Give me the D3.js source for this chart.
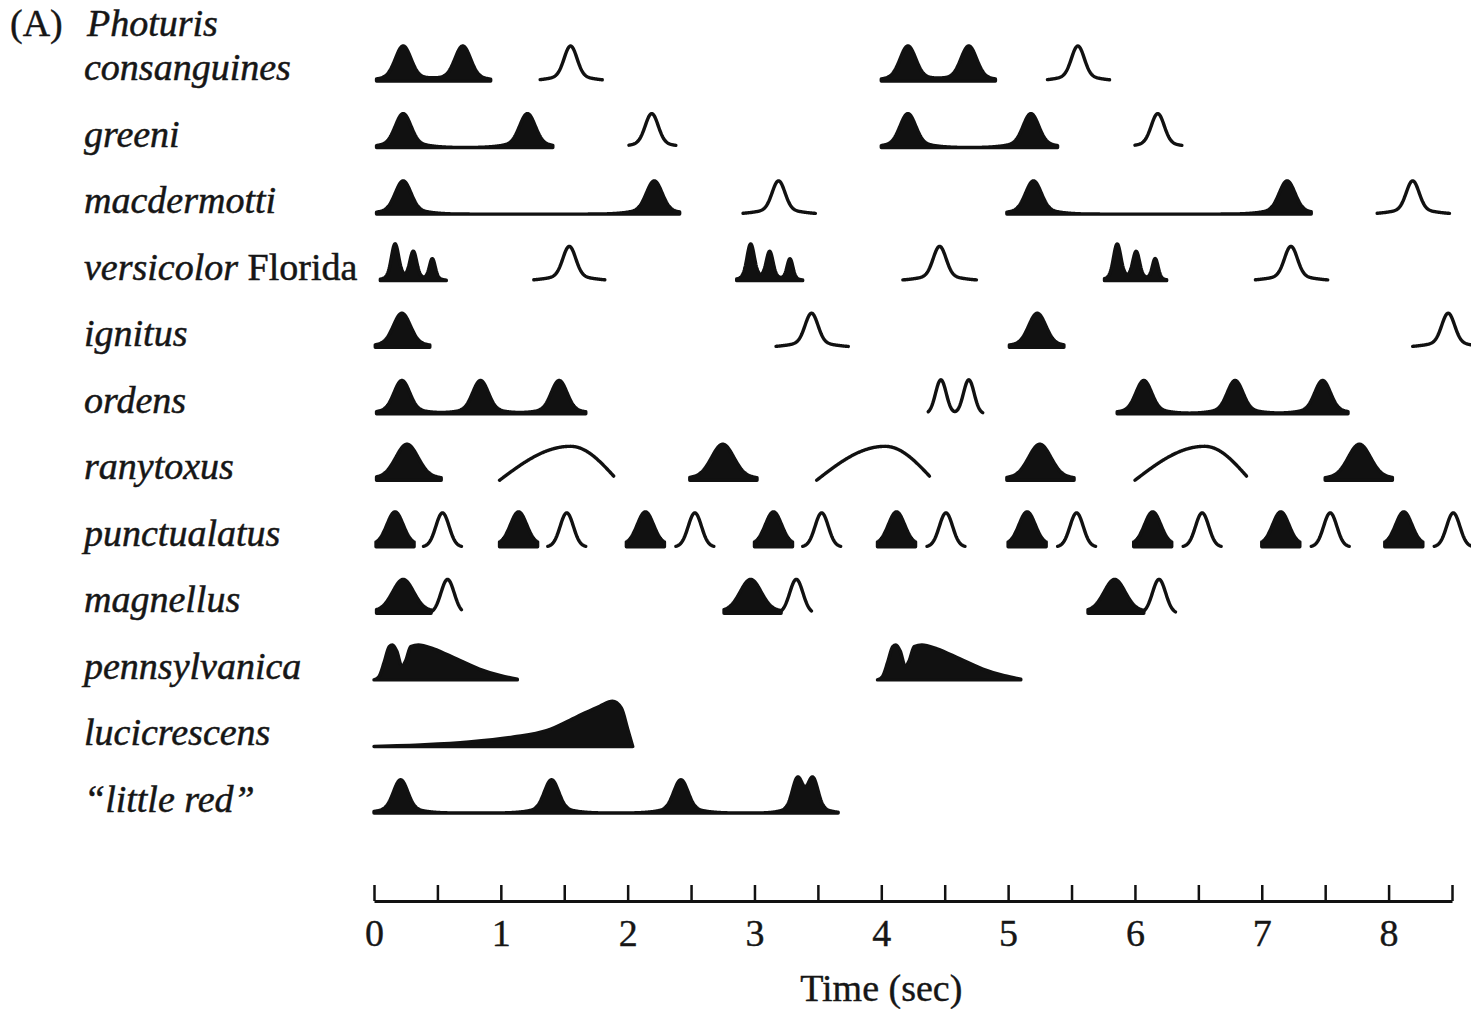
<!DOCTYPE html>
<html lang="en">
<head>
<meta charset="UTF-8">
<title>Photuris flash patterns</title>
<script src="https://d3js.org/d3.v7.min.js"></script>
<style>
  body { margin: 0; background: #fff; }
  svg text { font-family: "Liberation Serif", "Times New Roman", serif; fill: #161616; }
  .species { font-family: "Liberation Serif", serif; font-style: italic; font-size: 38px; stroke: #161616; stroke-width: 0.5; }
  .plain { font-size: 38px; stroke: #161616; stroke-width: 0.4; }
  .tick text { font-size: 38px; stroke: #161616; stroke-width: 0.4; }
  .flash { fill: #111; stroke: #111; stroke-width: 3.4; stroke-linejoin: round; }
  .reply { fill: none; stroke: #111; stroke-width: 3.4; stroke-linecap: round; stroke-linejoin: round; }
</style>
</head>
<body>
<svg id="chart" width="1471" height="1009"></svg>
<script>
// rows, top to bottom
const species = ["consanguines", "greeni", "macdermotti", "versicolor", "ignitus", "ordens",
  "ranytoxus", "punctualatus", "magnellus", "pennsylvanica", "lucicrescens", "little red"];
const labels = ["consanguines", "greeni", "macdermotti", "versicolor", "ignitus", "ordens",
  "ranytoxus", "punctualatus", "magnellus", "pennsylvanica", "lucicrescens", "\u201clittle red\u201d"];
const labelSuffix = { versicolor: "Florida" };

// male flashes (filled): start, end (sec) and peaks [time, height, width]
const flashes = [
  { sp: "consanguines", start: 0.02, end: 0.92, peaks: [[0.23, 1, 0.06], [0.70, 1, 0.06]] },
  { sp: "consanguines", start: 4.00, end: 4.90, peaks: [[4.21, 1, 0.06], [4.69, 1, 0.06]] },
  { sp: "greeni", start: 0.02, end: 1.41, peaks: [[0.23, 0.97, 0.06], [1.21, 0.97, 0.06]] },
  { sp: "greeni", start: 4.00, end: 5.39, peaks: [[4.21, 0.97, 0.06], [5.18, 0.97, 0.06]] },
  { sp: "macdermotti", start: 0.02, end: 2.41, peaks: [[0.23, 0.95, 0.06], [2.21, 0.95, 0.06]] },
  { sp: "macdermotti", start: 4.99, end: 7.39, peaks: [[5.20, 0.95, 0.06], [7.20, 0.95, 0.06]] },
  { sp: "versicolor", start: 0.05, end: 0.57, peaks: [[0.166, 1.04, 0.028], [0.31, 0.82, 0.026], [0.46, 0.62, 0.022]] },
  { sp: "versicolor", start: 2.86, end: 3.38, peaks: [[2.97, 1.04, 0.028], [3.12, 0.82, 0.026], [3.28, 0.62, 0.022]] },
  { sp: "versicolor", start: 5.76, end: 6.25, peaks: [[5.86, 1.04, 0.028], [6.01, 0.82, 0.026], [6.16, 0.62, 0.022]] },
  { sp: "ignitus", start: 0.01, end: 0.44, peaks: [[0.22, 0.97, 0.065]] },
  { sp: "ignitus", start: 5.01, end: 5.44, peaks: [[5.23, 0.97, 0.065]] },
  { sp: "ordens", start: 0.02, end: 1.67, peaks: [[0.22, 0.95, 0.06], [0.84, 0.95, 0.06], [1.46, 0.95, 0.06]] },
  { sp: "ordens", start: 5.86, end: 7.68, peaks: [[6.07, 0.95, 0.06], [6.79, 0.95, 0.06], [7.48, 0.95, 0.06]] },
  { sp: "ranytoxus", start: 0.02, end: 0.53, peaks: [[0.26, 1.03, 0.085]] },
  { sp: "ranytoxus", start: 2.49, end: 3.02, peaks: [[2.75, 1.03, 0.085]] },
  { sp: "ranytoxus", start: 4.99, end: 5.52, peaks: [[5.25, 1.03, 0.085]] },
  { sp: "ranytoxus", start: 7.50, end: 8.03, peaks: [[7.77, 1.03, 0.085]] },
  { sp: "magnellus", start: 0.02, end: 0.45, peaks: [[0.23, 0.97, 0.08]] },
  { sp: "magnellus", start: 2.76, end: 3.21, peaks: [[2.97, 0.97, 0.08]] },
  { sp: "magnellus", start: 5.63, end: 6.07, peaks: [[5.84, 0.97, 0.08]] },
  { sp: "little red", start: 0.0, end: 3.66, peaks: [[0.21, 0.95, 0.055], [1.40, 0.95, 0.055], [2.42, 0.95, 0.055], [3.34, 0.95, 0.04], [3.46, 0.95, 0.04]] }
];

// punctualatus: flash and reply times (sec)
const punctFlashes = [0.166, 1.14, 2.14, 3.15, 4.12, 5.15, 6.14, 7.15, 8.12];
const punctReplies = [0.54, 1.52, 2.53, 3.53, 4.51, 5.54, 6.53, 7.54, 8.51];

// female replies (open): kind, peaks, start, end, height
const replies = [
  { sp: "consanguines", kind: "bell", peaks: [1.55], start: 1.31, end: 1.80, h: 1 },
  { sp: "consanguines", kind: "bell", peaks: [5.55], start: 5.31, end: 5.80, h: 1 },
  { sp: "greeni", kind: "bell", peaks: [2.19], start: 2.01, end: 2.38, h: 0.97 },
  { sp: "greeni", kind: "bell", peaks: [6.18], start: 6.00, end: 6.37, h: 0.97 },
  { sp: "macdermotti", kind: "bell", peaks: [3.19], start: 2.91, end: 3.48, h: 0.95 },
  { sp: "macdermotti", kind: "bell", peaks: [8.19], start: 7.91, end: 8.48, h: 0.95 },
  { sp: "versicolor", kind: "bell", peaks: [1.54], start: 1.26, end: 1.82, h: 0.98 },
  { sp: "versicolor", kind: "bell", peaks: [4.46], start: 4.17, end: 4.75, h: 0.98 },
  { sp: "versicolor", kind: "bell", peaks: [7.23], start: 6.95, end: 7.52, h: 0.98 },
  { sp: "ignitus", kind: "bell", peaks: [3.45], start: 3.17, end: 3.74, h: 0.97 },
  { sp: "ignitus", kind: "bell", peaks: [8.47], start: 8.19, end: 8.76, h: 0.97 },
  { sp: "ordens", kind: "lambda", peaks: [4.47, 4.69], start: 4.37, end: 4.80, h: 0.97 },
  { sp: "magnellus", kind: "lambda", peaks: [0.58], start: 0.45, end: 0.69, h: 0.97 },
  { sp: "magnellus", kind: "lambda", peaks: [3.33], start: 3.21, end: 3.45, h: 0.97 },
  { sp: "magnellus", kind: "lambda", peaks: [6.19], start: 6.07, end: 6.32, h: 0.97 }
];

// ranytoxus replies: start, apex, end (sec)
const arcs = [[0.99, 1.55, 1.89], [3.49, 4.03, 4.38], [6.00, 6.55, 6.88]];

// traced flash profiles [time offset, intensity]
const pennProfile = [[0, 0], [0.04, 0.1], [0.08, 0.5], [0.12, 0.95], [0.145, 1.0], [0.18, 0.82], [0.22, 0.38],
  [0.25, 0.55], [0.29, 0.95], [0.35, 1.0], [0.47, 0.89], [0.65, 0.6], [0.83, 0.31], [1.0, 0.12], [1.13, 0.02]];
const pennStarts = [0.0, 3.97];
const luciProfile = [[0, 0], [0.4, 0.05], [0.75, 0.13], [1.1, 0.27], [1.36, 0.45], [1.6, 0.85], [1.78, 1.15],
  [1.88, 1.29], [1.95, 1.1], [2.0, 0.5], [2.04, 0]];

const timeTicks = [0, 0.5, 1, 1.5, 2, 2.5, 3, 3.5, 4, 4.5, 5, 5.5, 6, 6.5, 7, 7.5, 8, 8.5];
const timeLabels = ["0", "1", "2", "3", "4", "5", "6", "7", "8"];

const svg = d3.select("#chart");

const x = d3.scaleLinear().domain([0, 8.5]).range([374, 1452]);
const row = d3.scalePoint().domain(species).range([81, 813]);
const amp = d3.scaleLinear().domain([0, 1]).range([0, 35]);

const gauss = (dt, w) => Math.exp(-dt * dt / (2 * w * w));
// flash pulse: narrow core plus a soft skirt
const pulse = (dt, w) => 0.86 * gauss(dt, w) + 0.14 * gauss(dt, 2.6 * w);

function sample(start, end, fn) {
  const pts = [];
  for (let t = start; t < end; t += 0.004) pts.push([t, fn(t)]);
  pts.push([end, fn(end)]);
  return pts;
}

// labels
svg.append("text").attr("class", "plain").attr("x", 10).attr("y", 36).text("(A)");
svg.append("text").attr("class", "species").attr("x", 87).attr("y", 36).text("Photuris");

const lab = svg.selectAll("text.species.row")
  .data(species)
  .enter().append("text")
  .attr("class", "species row")
  .attr("x", 84)
  .attr("y", d => row(d) - 1)
  .text((d, i) => labels[i]);
lab.filter(d => labelSuffix[d])
  .append("tspan")
  .style("font-style", "normal")
  .text(d => " " + labelSuffix[d]);

// filled flashes
const allFlashes = flashes.concat(punctFlashes.map(t => (
  { sp: "punctualatus", start: t - 0.15, end: t + 0.15, peaks: [[t, 1, 0.062]] })));

svg.selectAll("path.flash")
  .data(allFlashes)
  .enter().append("path")
  .attr("class", "flash")
  .attr("d", f => {
    const y0 = row(f.sp);
    const pts = sample(f.start, f.end, t => d3.sum(f.peaks, p => p[1] * pulse(t - p[0], p[2])));
    return d3.area().x(d => x(d[0])).y0(y0).y1(d => y0 - amp(d[1]))(pts);
  });

// traced profiles
const profiled = pennStarts.map(s => ({ sp: "pennsylvanica", start: s, prof: pennProfile }))
  .concat([{ sp: "lucicrescens", start: 0.0, prof: luciProfile }]);

svg.selectAll("path.profile")
  .data(profiled)
  .enter().append("path")
  .attr("class", "flash profile")
  .attr("d", f => {
    const y0 = row(f.sp);
    return d3.area().curve(d3.curveMonotoneX)
      .x(d => x(f.start + d[0])).y0(y0).y1(d => y0 - amp(d[1]))(f.prof);
  });

// open replies
const allReplies = replies.concat(punctReplies.map(t => (
  { sp: "punctualatus", kind: "lambda", peaks: [t], start: t - 0.15, end: t + 0.15, h: 0.97 })));

svg.selectAll("path.reply")
  .data(allReplies)
  .enter().append("path")
  .attr("class", "reply")
  .attr("d", r => {
    const y0 = row(r.sp);
    const fn = r.kind === "bell"
      ? t => d3.sum(r.peaks, p => r.h * (0.86 * gauss(t - p, 0.05) + 0.14 * gauss(t - p, 0.15)))
      : t => d3.sum(r.peaks, p => r.h * gauss(t - p, r.peaks.length > 1 ? 0.042 : 0.052));
    return d3.line().x(d => x(d[0])).y(d => y0 - amp(d[1]))(sample(r.start, r.end, fn));
  });

// ranytoxus arcs
svg.selectAll("path.arc")
  .data(arcs)
  .enter().append("path")
  .attr("class", "reply arc")
  .attr("d", a => {
    const y0 = row("ranytoxus");
    const [s, m, e] = a;
    const fn = t => t <= m
      ? 0.97 * Math.sin(Math.PI / 2 * (t - s) / (m - s))
      : 0.12 + 0.85 * Math.cos(Math.PI / 2 * (t - m) / (e - m));
    return d3.line().x(d => x(d[0])).y(d => y0 - amp(d[1]))(sample(s, e, fn));
  });

// time axis
const axis = d3.axisBottom(x)
  .tickValues(timeTicks)
  .tickFormat(d => Number.isInteger(d) ? timeLabels[d] : "")
  .tickSizeInner(-16)
  .tickSizeOuter(0)
  .tickPadding(18);

const gx = svg.append("g").attr("transform", "translate(0,901)").call(axis);
gx.select(".domain").attr("stroke", "#111").attr("stroke-width", 3);
gx.selectAll(".tick line").attr("stroke", "#111").attr("stroke-width", 2.5);
gx.selectAll(".tick text").attr("fill", "#161616").style("font-family", "Liberation Serif, serif");

svg.append("text")
  .attr("class", "plain")
  .attr("x", x(4))
  .attr("y", 1001)
  .attr("text-anchor", "middle")
  .text("Time (sec)");
</script>
</body>
</html>
